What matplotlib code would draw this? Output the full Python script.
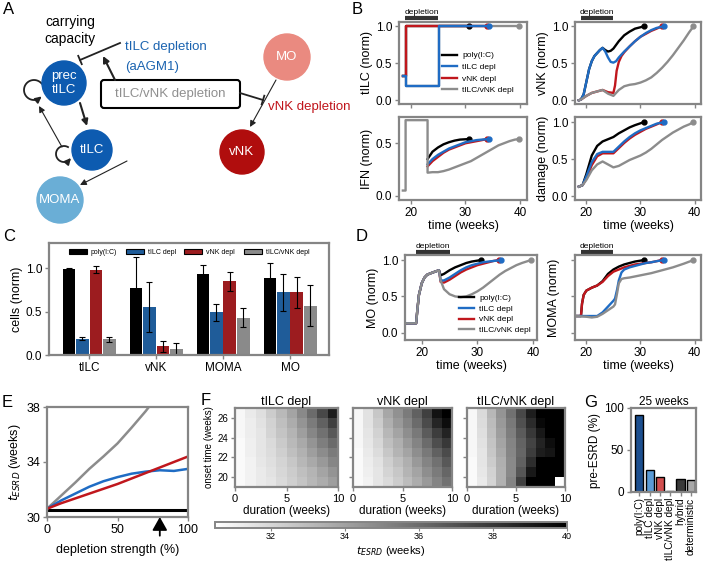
import numpy as np
import matplotlib
matplotlib.use("Agg")
import matplotlib.pyplot as plt
from matplotlib.patches import Circle, FancyBboxPatch

plt.rcParams['font.family'] = ['Liberation Sans', 'DejaVu Sans']
plt.rcParams['font.size'] = 8

# ---------------- data ----------------
series = ['poly(I:C)', 'tILC depl', 'vNK depl', 'tILC/vNK depl']

# B: tILC (norm)
tilc_t = {
    'poly(I:C)': [18.6, 19.1, 19.1, 30.6],
    'tILC depl': [18.6, 19.1, 19.1, 25.2, 25.2, 34.3],
    'vNK depl': [18.6, 19.1, 19.1, 33.9],
    'tILC/vNK depl': [18.6, 19.1, 19.1, 25.2, 25.2, 39.8],
}
tilc_v = {
    'poly(I:C)': [0.33, 0.33, 1.0, 1.0],
    'tILC depl': [0.33, 0.33, 0.2, 0.2, 1.0, 1.0],
    'vNK depl': [0.33, 0.33, 1.0, 1.0],
    'tILC/vNK depl': [0.33, 0.33, 0.2, 0.2, 1.0, 1.0],
}

# B: vNK (norm)
vnk_t = {
    'poly(I:C)': [18.6, 19, 19.5, 20, 20.5, 21, 21.5, 22, 22.5, 23, 23.5, 24, 24.5, 25, 26, 27, 28, 29, 30.6],
    'tILC depl': [18.6, 19, 19.5, 20, 20.5, 21, 21.5, 22, 22.5, 23, 23.5, 24, 24.5, 25, 25.5, 26, 27, 28, 29, 30, 31, 32, 33, 34.3],
    'vNK depl': [18.6, 19, 20, 21, 22, 23, 24, 25, 25.3, 25.6, 26, 26.5, 27, 28, 29, 30, 31, 32, 33, 33.9],
    'tILC/vNK depl': [18.6, 19, 20, 21, 22, 23, 24, 25, 26, 27, 28, 29, 30, 31, 32, 33, 34, 35, 36, 37, 38, 39, 39.8],
}
vnk_v = {
    'poly(I:C)': [0, 0.01, 0.08, 0.25, 0.42, 0.53, 0.6, 0.64, 0.68, 0.71, 0.68, 0.66, 0.67, 0.7, 0.8, 0.88, 0.93, 0.97, 1.0],
    'tILC depl': [0, 0.01, 0.08, 0.25, 0.42, 0.53, 0.6, 0.64, 0.68, 0.71, 0.66, 0.58, 0.52, 0.51, 0.53, 0.58, 0.66, 0.73, 0.8, 0.86, 0.91, 0.95, 0.98, 1.0],
    'vNK depl': [0, 0.01, 0.06, 0.1, 0.12, 0.14, 0.11, 0.1, 0.2, 0.4, 0.52, 0.6, 0.65, 0.73, 0.8, 0.86, 0.9, 0.94, 0.97, 1.0],
    'tILC/vNK depl': [0, 0.01, 0.06, 0.1, 0.12, 0.14, 0.09, 0.06, 0.14, 0.19, 0.21, 0.22, 0.24, 0.27, 0.31, 0.37, 0.44, 0.52, 0.61, 0.71, 0.81, 0.92, 1.0],
}

# B: IFN (norm)
ifn_t = {
    'poly(I:C)': [23.1, 24, 25, 26, 27, 28, 29, 30.6],
    'tILC depl': [23.1, 24, 25, 26, 27, 28, 29, 30, 31, 32, 33, 34.3],
    'vNK depl': [23.1, 24, 25, 26, 27, 28, 29, 30, 31, 32, 33, 33.9],
    'tILC/vNK depl': [18.6, 19.1, 19.1, 23.1, 23.1, 24, 25, 26, 27, 28, 29, 30, 31, 32, 33, 34, 35, 36, 37, 38, 39, 39.8],
}
ifn_v = {
    'poly(I:C)': [0.35, 0.42, 0.46, 0.49, 0.51, 0.525, 0.535, 0.54],
    'tILC depl': [0.3, 0.35, 0.39, 0.42, 0.45, 0.47, 0.49, 0.51, 0.52, 0.53, 0.535, 0.54],
    'vNK depl': [0.28, 0.33, 0.37, 0.41, 0.44, 0.46, 0.48, 0.5, 0.51, 0.52, 0.53, 0.54],
    'tILC/vNK depl': [0.05, 0.05, 0.72, 0.72, 0.22, 0.225, 0.225, 0.235, 0.25, 0.27, 0.29, 0.31, 0.33, 0.36, 0.39, 0.42,
                      0.45, 0.48, 0.5, 0.52, 0.535, 0.54],
}

# B: damage (norm)
dmg_t = {
    'poly(I:C)': [18.6, 19.3, 20, 21, 22, 23, 24, 25, 26, 27, 28, 29, 30.6],
    'tILC depl': [18.6, 19.3, 20, 21, 22, 23, 24, 25, 26, 27, 28, 29, 30, 31, 32, 33, 34.3],
    'vNK depl': [18.6, 19.3, 20, 21, 22, 23, 24, 25, 26, 27, 28, 29, 30, 31, 32, 33, 33.9],
    'tILC/vNK depl': [18.6, 19.3, 20, 21, 22, 23, 24, 25, 26, 27, 28, 29, 30, 31, 32, 33, 34, 35, 36, 37, 38, 39, 39.8],
}
dmg_v = {
    'poly(I:C)': [0.13, 0.15, 0.3, 0.55, 0.68, 0.74, 0.77, 0.8, 0.85, 0.89, 0.93, 0.96, 1.0],
    'tILC depl': [0.13, 0.15, 0.27, 0.46, 0.57, 0.6, 0.6, 0.6, 0.67, 0.74, 0.8, 0.85, 0.89, 0.92, 0.95, 0.98, 1.0],
    'vNK depl': [0.13, 0.15, 0.24, 0.42, 0.54, 0.58, 0.58, 0.58, 0.65, 0.72, 0.78, 0.83, 0.87, 0.91, 0.94, 0.97, 1.0],
    'tILC/vNK depl': [0.13, 0.15, 0.22, 0.35, 0.43, 0.47, 0.43, 0.39, 0.41, 0.45, 0.49, 0.52, 0.55, 0.59, 0.64, 0.7,
                      0.76, 0.81, 0.86, 0.9, 0.94, 0.97, 1.0],
}

# C: measured cell numbers
groups = ['tILC', 'vNK', 'MOMA', 'MO']
cells_mean = {
    'poly(I:C)': [0.99, 0.77, 0.93, 0.89],
    'tILC depl': [0.19, 0.55, 0.49, 0.72],
    'vNK depl': [0.98, 0.10, 0.85, 0.72],
    'tILC/vNK depl': [0.18, 0.07, 0.43, 0.57],
}
cells_err = {
    'poly(I:C)': [0.01, 0.36, 0.11, 0.17],
    'tILC depl': [0.02, 0.29, 0.10, 0.21],
    'vNK depl': [0.04, 0.06, 0.11, 0.18],
    'tILC/vNK depl': [0.03, 0.07, 0.11, 0.24],
}

# D: MO (norm)
mo_t = {
    'poly(I:C)': [17.0, 19.0, 19.2, 19.5, 20, 20.5, 21, 22, 23.1, 23.4, 24, 25, 26, 27, 28, 29, 30.6],
    'tILC depl': [17.0, 19.0, 19.2, 19.5, 20, 20.5, 21, 22, 23.1, 23.4, 24, 25, 26, 27, 28, 29, 30, 31, 32, 34.3],
    'vNK depl': [17.0, 19.0, 19.2, 19.5, 20, 20.5, 21, 22, 23.1, 23.4, 24, 25, 26, 27, 28, 29, 30, 31, 32, 33, 33.9],
    'tILC/vNK depl': [17.0, 19.0, 19.2, 19.5, 20, 20.5, 21, 22, 23.1, 23.4, 24, 25, 26, 27, 28, 29, 30, 31, 32, 33,
                      34, 35, 36, 37, 38, 39.6],
}
mo_v = {
    'poly(I:C)': [0.13, 0.13, 0.3, 0.52, 0.68, 0.76, 0.8, 0.83, 0.86, 0.79, 0.81, 0.86, 0.9, 0.93, 0.96, 0.98, 1.0],
    'tILC depl': [0.13, 0.13, 0.3, 0.52, 0.68, 0.76, 0.8, 0.83, 0.86, 0.72, 0.72, 0.76, 0.81, 0.86, 0.9, 0.93, 0.95, 0.97, 0.98, 1.0],
    'vNK depl': [0.13, 0.13, 0.3, 0.52, 0.68, 0.76, 0.8, 0.83, 0.86, 0.7, 0.69, 0.73, 0.78, 0.83, 0.87, 0.9, 0.93, 0.95, 0.97, 0.99, 1.0],
    'tILC/vNK depl': [0.13, 0.13, 0.3, 0.52, 0.68, 0.76, 0.8, 0.83, 0.86, 0.72, 0.6, 0.53, 0.5, 0.49, 0.5, 0.53, 0.57,
                      0.62, 0.68, 0.74, 0.8, 0.85, 0.89, 0.93, 0.96, 1.0],
}

# D: MOMA (norm)
moma_t = {
    'poly(I:C)': [17.9, 19.0, 19.2, 19.5, 20, 21, 22, 23, 23.5, 24, 25, 26, 27, 28, 29, 30.6],
    'tILC depl': [17.9, 22, 23, 24, 25, 25.3, 25.7, 26, 26.5, 27, 28, 29, 30, 31, 32, 33, 34.3],
    'vNK depl': [17.9, 19.0, 19.2, 19.5, 20, 21, 22, 23, 23.5, 24, 25, 26, 27, 28, 29, 30, 31, 32, 33, 33.9],
    'tILC/vNK depl': [17.9, 20, 21, 22, 23, 24, 25, 25.3, 25.7, 26, 26.5, 27, 28, 30, 32, 34, 36, 38, 39.8],
}
moma_v = {
    'poly(I:C)': [0.23, 0.23, 0.4, 0.52, 0.58, 0.62, 0.65, 0.71, 0.76, 0.81, 0.87, 0.91, 0.94, 0.96, 0.98, 1.0],
    'tILC depl': [0.23, 0.23, 0.28, 0.36, 0.44, 0.47, 0.6, 0.72, 0.83, 0.87, 0.9, 0.92, 0.94, 0.96, 0.97, 0.985, 1.0],
    'vNK depl': [0.23, 0.23, 0.4, 0.52, 0.58, 0.62, 0.65, 0.7, 0.74, 0.78, 0.84, 0.87, 0.9, 0.92, 0.94, 0.95, 0.96, 0.97, 0.985, 1.0],
    'tILC/vNK depl': [0.23, 0.22, 0.21, 0.22, 0.26, 0.31, 0.36, 0.39, 0.55, 0.68, 0.74, 0.75, 0.76, 0.79, 0.82, 0.86, 0.9, 0.95, 1.0],
}

# E: t_ESRD vs depletion strength
strength = [0, 10, 20, 30, 40, 50, 60, 70, 80, 90, 100]
tesrd_poly = [30.5] * 11
tesrd_tilc = [30.6, 31.2, 31.7, 32.2, 32.6, 32.9, 33.15, 33.3, 33.4, 33.35, 33.5]
tesrd_vnk = [30.6, 31.0, 31.35, 31.7, 32.05, 32.4, 32.8, 33.2, 33.6, 34.0, 34.4]
strength_both = [0, 10, 20, 30, 40, 50, 60, 70, 73]
tesrd_both = [30.6, 31.55, 32.5, 33.5, 34.4, 35.35, 36.5, 37.7, 38.1]
arrow_strength = 80

# F: t_ESRD heatmaps, rows = onset 19..26 (bottom to top), cols = duration 0..9
duration_edges = np.arange(0, 11)
onset_edges = np.arange(19, 28)
heat_tilc = np.array([
    [30.7, 31.0, 31.3, 31.5, 31.9, 32.3, 32.7, 33.2, 33.6, 34.1],
    [30.7, 31.0, 31.3, 31.6, 32.0, 32.4, 32.9, 33.3, 33.9, 34.5],
    [30.7, 31.0, 31.4, 31.7, 32.1, 32.6, 33.2, 33.7, 34.3, 35.0],
    [30.7, 31.1, 31.5, 31.8, 32.3, 32.9, 33.4, 34.1, 34.8, 35.4],
    [30.7, 31.1, 31.5, 31.9, 32.5, 33.1, 33.7, 34.5, 35.3, 36.0],
    [30.8, 31.2, 31.5, 32.1, 32.7, 33.3, 34.1, 35.0, 35.8, 36.7],
    [30.8, 31.2, 31.6, 32.2, 32.9, 33.6, 34.5, 35.4, 36.4, 37.6],
    [30.8, 31.3, 31.7, 32.4, 33.1, 33.9, 34.9, 36.0, 37.3, 38.9],
])
heat_vnk = np.array([
    [30.7, 31.0, 31.5, 31.9, 32.4, 33.0, 33.6, 34.3, 35.1, 35.8],
    [30.7, 31.1, 31.5, 32.1, 32.6, 33.3, 33.9, 34.7, 35.4, 36.2],
    [30.7, 31.2, 31.6, 32.3, 32.9, 33.5, 34.3, 35.1, 35.8, 36.7],
    [30.7, 31.3, 31.8, 32.6, 33.3, 33.9, 34.7, 35.5, 36.4, 37.2],
    [30.8, 31.4, 32.0, 32.9, 33.5, 34.3, 35.1, 36.0, 37.1, 37.9],
    [30.8, 31.5, 32.2, 33.2, 33.9, 34.7, 35.5, 36.6, 37.7, 38.7],
    [30.8, 31.6, 32.4, 33.5, 34.3, 35.1, 36.0, 37.2, 38.6, 39.5],
    [30.8, 31.6, 32.6, 33.8, 34.6, 35.4, 36.4, 37.6, 39.3, 40.0],
])
heat_both = np.array([
    [30.7, 31.3, 32.1, 33.4, 35.1, 37.6, 40.0, 40.0, 40.0, np.nan],
    [30.7, 31.4, 32.2, 33.4, 34.9, 36.8, 39.1, 40.0, 40.0, 40.0],
    [30.7, 31.5, 32.4, 33.5, 34.9, 36.4, 38.3, 40.0, 40.0, 40.0],
    [30.8, 31.5, 32.6, 33.7, 35.0, 36.2, 37.7, 38.9, 39.2, 40.0],
    [30.8, 31.6, 32.7, 33.9, 35.1, 36.3, 37.5, 38.7, 39.5, 40.0],
    [30.8, 31.7, 32.9, 34.1, 35.3, 36.6, 37.9, 39.1, 40.0, 40.0],
    [30.8, 31.8, 33.0, 34.3, 35.5, 37.0, 38.4, 39.7, 40.0, 40.0],
    [30.8, 31.9, 33.2, 34.5, 35.8, 37.3, 38.9, 40.0, 40.0, 40.0],
])
heat_titles = ['tILC depl', 'vNK depl', 'tILC/vNK depl']

# G: pre-ESRD fraction at 25 weeks
g_labels = ['poly(I:C)', 'tILC depl', 'vNK depl', 'tILC/vNK depl', 'hybrid', 'deterministic']
g_values = [92, 26, 18, 1, 15, 14]
g_colors = ['#1c4f8f', '#5b9bd5', '#d24f4f', '#9a9a9a', '#3a3a3a', '#a8a8a8']

# ---------------- figure ----------------
W, H = 704, 565
fig = plt.figure(figsize=(W / 100, H / 100), dpi=100)
FRAME = '#858585'
colors = {'poly(I:C)': 'black', 'tILC depl': '#1f6cc4', 'vNK depl': '#c0171d', 'tILC/vNK depl': '#8c8c8c'}


def box(l, t, r, b):
    return fig.add_axes([l / W, 1 - b / H, (r - l) / W, (b - t) / H])


def style(ax, size=8.5):
    for s in ax.spines.values():
        s.set_color(FRAME)
        s.set_linewidth(1.6)
    ax.tick_params(color=FRAME, length=3, width=1, labelsize=size, pad=2)


def draw_curves(ax, ts, vs, order):
    handles = {}
    for name in order:
        line, = ax.plot(ts[name], vs[name], color=colors[name], lw=1.7, label=name)
        ax.plot(ts[name][-1], vs[name][-1], 'o', color=colors[name], ms=3.5)
        handles[name] = line
    return [handles[n] for n in series]


def depletion_bar(ax, y0=1.05):
    tr = ax.get_xaxis_transform()
    ax.plot([19, 25], [y0, y0], color='#333333', lw=3, transform=tr, clip_on=False, solid_capstyle='butt')
    ax.text(22, y0 + 0.02, 'depletion', transform=tr, ha='center', va='bottom', fontsize=6)


# ---- Panel A: diagram ----
axA = fig.add_axes([0, 1 - 230 / H, 360 / W, 230 / H])
axA.set_xlim(0, 360)
axA.set_ylim(230, 0)
axA.axis('off')

nodes = [((64, 83), 22, '#0d5bb0', 'prec\ntILC'), ((92, 150), 20, '#0d5bb0', 'tILC'),
         ((60, 200), 23, '#6aaed6', 'MOMA'), ((287, 57), 23, '#ea8a80', 'MO'),
         ((242, 152), 22, '#b00d0d', 'vNK')]
for c, r, col, txt in nodes:
    axA.add_patch(Circle(c, r, color=col, zorder=3))
    axA.text(c[0], c[1], txt, color='white', ha='center', va='center', fontsize=9.5,
             linespacing=1.3, zorder=4)

axA.add_patch(FancyBboxPatch((101, 80), 139, 28, boxstyle='round,pad=0,rounding_size=3',
                             fc='white', ec='black', lw=1.5, zorder=2))
axA.text(170, 94, 'tILC/vNK depletion', color='#8f8f8f', ha='center', va='center', fontsize=9.5)
axA.text(70, 22, 'carrying', ha='center', va='center', fontsize=10)
axA.text(70, 39, 'capacity', ha='center', va='center', fontsize=10)
axA.text(125, 47, 'tILC depletion', color='#1a63b0', ha='left', va='center', fontsize=9.5)
axA.text(125, 67, '(aAGM1)', color='#1a63b0', ha='left', va='center', fontsize=9.5)
axA.text(268, 107, 'vNK depletion', color='#c0141b', ha='left', va='center', fontsize=9.5)


def arrow(p0, p1, lw=1.3):
    axA.annotate('', xy=p1, xytext=p0,
                 arrowprops=dict(arrowstyle='-|>', color='#222222', lw=lw,
                                 shrinkA=0, shrinkB=0, mutation_scale=9))


def inhibit(p0, p1, bar=9):
    axA.plot([p0[0], p1[0]], [p0[1], p1[1]], color='#222222', lw=1.3)
    dx, dy = p1[0] - p0[0], p1[1] - p0[1]
    n = np.hypot(dx, dy)
    px, py = -dy / n * bar / 2, dx / n * bar / 2
    axA.plot([p1[0] - px, p1[0] + px], [p1[1] - py, p1[1] + py], color='#222222', lw=1.3)


def loop(c, r, a0, a1):
    a = np.radians(np.linspace(a0, a1, 40))
    x = c[0] + r * np.cos(a)
    y = c[1] - r * np.sin(a)
    axA.plot(x[:-3], y[:-3], color='#222222', lw=1.3)
    arrow((x[-4], y[-4]), (x[-1], y[-1]))


inhibit((120, 43), (80, 60))
arrow((115, 80), (103, 56), lw=1.5)
inhibit((240, 93), (263, 100))
arrow((276, 80), (250, 127), lw=0.8)
arrow((80, 103), (87, 126), lw=1.5)
arrow((62, 147), (39, 106), lw=0.8)
arrow((127, 161), (80, 185), lw=0.8)
loop((34, 90), 10, 40, 320)
loop((64, 154), 8, 60, 330)

# ---- Panel B ----
axB1 = box(399, 22, 527, 104)
axB2 = box(575, 22, 701, 104)
axB3 = box(399, 117, 527, 200)
axB4 = box(575, 117, 701, 200)
order_main = ['poly(I:C)', 'vNK depl', 'tILC depl', 'tILC/vNK depl']
hB = draw_curves(axB1, tilc_t, tilc_v, ['tILC/vNK depl', 'poly(I:C)', 'vNK depl', 'tILC depl'])
draw_curves(axB2, vnk_t, vnk_v, order_main)
draw_curves(axB3, ifn_t, ifn_v, order_main)
draw_curves(axB4, dmg_t, dmg_v, order_main)
for ax in (axB1, axB2, axB3, axB4):
    style(ax)
    ax.set_xlim(17.9, 41.2)
    ax.set_xticks([20, 30, 40])
for ax in (axB1, axB2):
    ax.set_ylim(-0.05, 1.06)
    ax.set_yticks([0, 0.5, 1.0])
    ax.set_xticklabels([])
    depletion_bar(ax)
axB3.set_ylim(-0.04, 0.75)
axB3.set_yticks([0, 0.5])
axB4.set_ylim(-0.05, 1.07)
axB4.set_yticks([0, 0.5, 1.0])
axB1.set_ylabel('tILC (norm)', fontsize=9, labelpad=2)
axB2.set_ylabel('vNK (norm)', fontsize=9, labelpad=2)
axB3.set_ylabel('IFN (norm)', fontsize=9, labelpad=2)
axB4.set_ylabel('damage (norm)', fontsize=9, labelpad=2)
axB3.set_xlabel('time (weeks)', fontsize=9, labelpad=1)
axB4.set_xlabel('time (weeks)', fontsize=9, labelpad=1)
axB1.legend(hB, series, loc='upper left', bbox_to_anchor=(0.3, 0.7), frameon=False, fontsize=6,
            handlelength=1.8, labelspacing=0.45, borderpad=0.1, handletextpad=0.6)

# ---- Panel C ----
axC = box(49, 243, 329, 355)
c_colors = ['black', '#1f5c99', '#9c1c1f', '#8a8a8a']
xg = np.arange(len(groups))
for k, name in enumerate(series):
    axC.bar(xg + (k - 1.5) * 0.2, cells_mean[name], width=0.19, color=c_colors[k], label=name,
            yerr=cells_err[name], error_kw=dict(ecolor='black', elinewidth=0.8, capsize=2, capthick=0.8))
style(axC)
axC.set_xlim(-0.6, 3.58)
axC.set_ylim(0, 1.29)
axC.set_yticks([0, 0.5, 1.0])
axC.set_xticks(xg)
axC.set_xticklabels(groups)
axC.set_ylabel('cells (norm)', fontsize=9, labelpad=2)
legC = axC.legend(loc='upper center', bbox_to_anchor=(0.5, 1.0), ncol=4, frameon=False, fontsize=5,
                  handlelength=2.6, columnspacing=1.2, handletextpad=0.6)
for p in legC.get_patches():
    p.set_edgecolor('black')
    p.set_linewidth(0.8)

# ---- Panel D ----
axD1 = box(405, 255, 537, 340)
axD2 = box(575, 255, 701, 340)
hD = draw_curves(axD1, mo_t, mo_v, order_main)
draw_curves(axD2, moma_t, moma_v, order_main)
for ax in (axD1, axD2):
    style(ax)
    ax.set_ylim(-0.1, 1.07)
    ax.set_yticks([0, 0.5, 1.0])
    ax.set_xticks([20, 30, 40])
    ax.set_xlabel('time (weeks)', fontsize=9, labelpad=1)
    depletion_bar(ax, 1.035)
axD1.set_xlim(17.0, 40.7)
axD2.set_xlim(17.9, 41.2)
axD2.set_yticklabels([])
axD1.set_ylabel('MO (norm)', fontsize=9, labelpad=2)
axD2.set_ylabel('MOMA (norm)', fontsize=9, labelpad=6)
axD1.legend(hD, series, loc='lower right', bbox_to_anchor=(1.0, 0.0), frameon=False, fontsize=6,
            handlelength=1.8, labelspacing=0.35, borderpad=0.2, handletextpad=0.6)

# ---- Panel E ----
axE = box(47, 407, 188, 517)
axE.plot(strength, tesrd_poly, color='black', lw=2.2)
axE.plot(strength_both, tesrd_both, color=colors['tILC/vNK depl'], lw=1.8)
axE.plot(strength, tesrd_tilc, color=colors['tILC depl'], lw=1.8)
axE.plot(strength, tesrd_vnk, color=colors['vNK depl'], lw=1.8)
style(axE, 9)
axE.set_xlim(0, 100)
axE.set_ylim(30, 38)
axE.set_yticks([30, 34, 38])
axE.set_xticks([0, 50, 100])
axE.set_ylabel('$t_{ESRD}$ (weeks)', fontsize=9, labelpad=2)
axE.set_xlabel('depletion strength (%)', fontsize=9, labelpad=6)
axE.annotate('', xy=(arrow_strength, 0.0), xycoords=('data', 'axes fraction'),
             xytext=(arrow_strength, -0.17), textcoords=('data', 'axes fraction'),
             arrowprops=dict(arrowstyle='-|>,head_width=0.45,head_length=0.8', color='black', lw=1.3,
                             shrinkA=0, shrinkB=0, mutation_scale=10), annotation_clip=False)

# ---- Panel F ----
heats = [heat_tilc, heat_vnk, heat_both]
f_boxes = [(235, 408, 338, 487), (353, 408, 452, 487), (467, 408, 565, 487)]
for i, (hm, bx) in enumerate(zip(heats, f_boxes)):
    ax = box(*bx)
    mesh = ax.pcolormesh(duration_edges, onset_edges, hm, cmap='gray_r', vmin=30.5, vmax=40)
    style(ax, 8)
    ax.set_xticks([0, 5, 10])
    ax.set_yticks([20, 22, 24, 26])
    ax.set_title(heat_titles[i], fontsize=9, pad=2)
    ax.set_xlabel('duration (weeks)', fontsize=8.5, labelpad=1)
    if i == 0:
        ax.set_ylabel('onset time (weeks)', fontsize=7, labelpad=2)
        ax.tick_params(axis='y', labelsize=7)
    else:
        ax.set_yticklabels([])
cax = box(215, 522, 567, 528)
cb = fig.colorbar(mesh, cax=cax, orientation='horizontal', ticks=[32, 34, 36, 38, 40])
cb.outline.set_edgecolor(FRAME)
cb.outline.set_linewidth(1.4)
cax.tick_params(labelsize=6.5, color=FRAME, length=2, pad=1)
cb.set_label('$t_{ESRD}$ (weeks)', fontsize=8, labelpad=2)

# ---- Panel G ----
axG = box(631, 408, 696, 492)
axG.bar(np.arange(len(g_values)), g_values, width=0.78, color=g_colors, edgecolor='black', lw=1)
style(axG, 8.5)
axG.set_xlim(-0.8, 5.5)
axG.set_ylim(0, 100)
axG.set_yticks([0, 50, 100])
axG.set_xticks(np.arange(len(g_values)))
axG.set_xticklabels(g_labels, rotation=90, fontsize=7.3)
axG.tick_params(axis='x', pad=1)
axG.set_ylabel('pre-ESRD (%)', fontsize=8.5, labelpad=2)
axG.set_title('25 weeks', fontsize=8.5, pad=1)

# panel letters
for letter, x, y in [('A', 3, 2), ('B', 352, 2), ('C', 3, 229), ('D', 356, 229),
                     ('E', 2, 395), ('F', 201, 393), ('G', 584, 395)]:
    fig.text(x / W, 1 - y / H, letter, ha='left', va='top', fontsize=12)

fig.savefig('out.png', dpi=100)
